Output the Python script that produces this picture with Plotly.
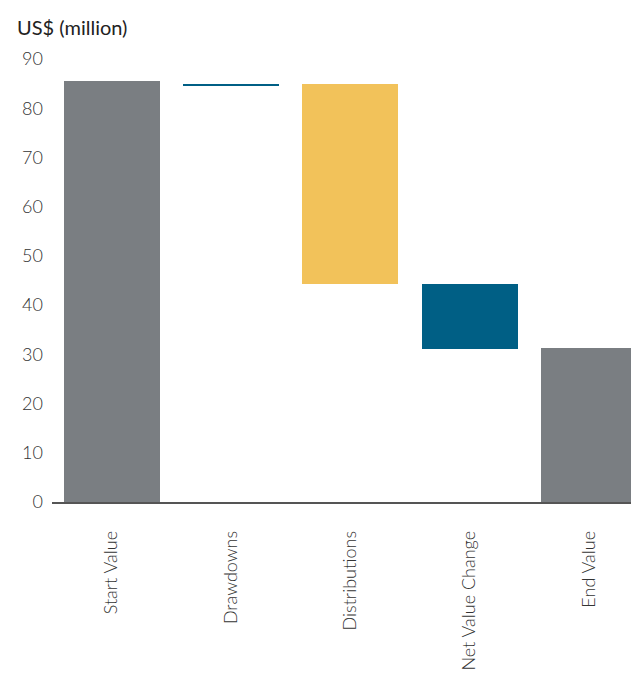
import plotly.graph_objects as go

categories = ["Start Value", "Drawdowns", "Distributions", "Net Value Change", "End Value"]
bar_low = [0, 84.7, 44.3, 31.1, 0]
bar_high = [85.5, 84.95, 84.9, 44.3, 31.3]
colors = ["#7a7e82", "#005f85", "#f2c25a", "#005f85", "#7a7e82"]
y_ticks = [0, 10, 20, 30, 40, 50, 60, 70, 80, 90]

heights = [h - l for l, h in zip(bar_low, bar_high)]

FONT = "Lato, Open Sans, sans-serif"

fig = go.Figure()
fig.add_trace(go.Bar(
    x=list(range(len(categories))),
    y=heights,
    base=bar_low,
    marker=dict(color=colors, line=dict(width=0)),
    width=0.805,
    hoverinfo="skip",
))

fig.update_layout(
    width=631, height=667,
    margin=dict(l=44, r=0, t=51, b=172.5),
    plot_bgcolor="white", paper_bgcolor="white",
    showlegend=False,
    font=dict(family=FONT, color="#333"),
    bargap=0,
)
fig.update_xaxes(
    range=[-0.5, 4.42],
    tickmode="array",
    tickvals=list(range(len(categories))),
    ticktext=categories,
    tickangle=-90,
    tickfont=dict(size=18, color="#333", weight=300),
    showgrid=False, zeroline=False,
    showline=True, linecolor="#555", linewidth=1.5,
    layer="below traces",
    ticks="", ticklabelstandoff=20,
)
fig.update_yaxes(
    range=[0, 90],
    tickvals=y_ticks,
    tickfont=dict(size=18, color="#333", weight=300),
    showgrid=False, zeroline=False, showline=False,
    ticks="", ticklabelstandoff=8,
)
fig.add_annotation(
    text="US$ (million)", xref="paper", yref="paper",
    x=-44/587, y=1, yshift=32, xshift=7,
    xanchor="left", yanchor="middle", showarrow=False,
    font=dict(size=20, color="#222", family=FONT),
)
fig.write_html("out.html")
